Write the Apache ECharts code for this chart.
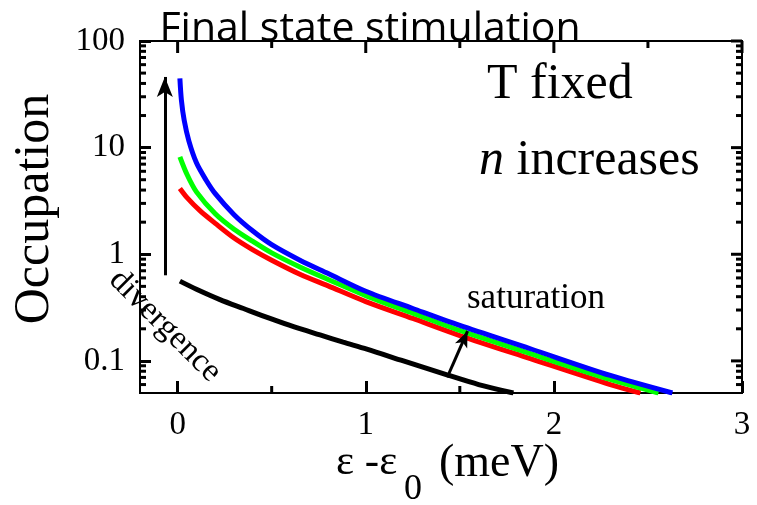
<!DOCTYPE html>
<html>
<head>
<meta charset="utf-8">
<script src="https://cdn.jsdelivr.net/npm/echarts@6/dist/echarts.min.js"></script>
<style>html,body{margin:0;padding:0;background:#fff}#c{width:757px;height:505px}</style>
</head>
<body>
<div id="c"></div>
<script>
// x values (meV) and occupations
const blueX  = [0.012, 0.02, 0.035, 0.06, 0.10, 0.15, 0.20, 0.30, 0.40, 0.50, 0.65, 0.80, 1.00, 1.25, 1.50, 1.875, 2.30, 2.63];
const blueY  = [44.6, 28, 18, 11.5, 7.2, 5.0, 3.7, 2.35, 1.65, 1.23, 0.88, 0.66, 0.45, 0.31, 0.215, 0.13, 0.073, 0.05];
const greenX = [0.012, 0.05, 0.10, 0.20, 0.30, 0.40, 0.50, 0.65, 0.80, 1.00, 1.25, 1.50, 1.875, 2.30, 2.556];
const greenY = [8.2, 5.6, 3.85, 2.4, 1.72, 1.32, 1.03, 0.76, 0.58, 0.41, 0.28, 0.193, 0.117, 0.067, 0.05];
const redX   = [0.012, 0.05, 0.12, 0.20, 0.30, 0.40, 0.50, 0.65, 0.80, 1.00, 1.25, 1.50, 1.875, 2.30, 2.46];
const redY   = [4.14, 3.4, 2.55, 1.95, 1.42, 1.10, 0.88, 0.65, 0.505, 0.36, 0.25, 0.173, 0.105, 0.06, 0.05];
const blackX = [0.012, 0.10, 0.225, 0.35, 0.491, 0.62, 0.757, 0.88, 1.006, 1.20, 1.432, 1.60, 1.785];
const blackY = [0.56, 0.47, 0.376, 0.31, 0.25, 0.208, 0.175, 0.15, 0.129, 0.10, 0.074, 0.06, 0.05];
// arrows (data coordinates)
const divergenceArrow = [[-0.068, 0.635], [-0.068, 46]];
const saturationArrow = [[1.433, 0.070], [1.541, 0.19]];
// ticks
const xMajor = [0, 1, 2, 3];
const xMinor = [0.5, 1.5, 2.5];
const yMajor = [0.1, 1, 10, 100];
const yMinor = [0.06, 0.07, 0.08, 0.09, 0.2, 0.3, 0.4, 0.5, 0.6, 0.7, 0.8, 0.9,
                2, 3, 4, 5, 6, 7, 8, 9, 20, 30, 40, 50, 60, 70, 80, 90];

const zip = (xs, ys) => xs.map((x, i) => [x, ys[i]]);
const SERIF = 'Liberation Serif';
const X_MIN = -0.2, X_MAX = 3, Y_MIN = 0.05, Y_MAX = 100;
const TICK_W = 3;

const chart = echarts.init(document.getElementById('c'), null, { renderer: 'canvas' });
function line(data, color) {
  return { type: 'line', data: data, showSymbol: false, symbol: 'none',
    smooth: 0.3, lineStyle: { color: color, width: 5 }, z: 3 };
}
const blackSeries = line(zip(blackX, blackY), '#000');
blackSeries.markLine = {
  silent: true, animation: false, label: { show: false },
  lineStyle: { color: '#000', width: 3, type: 'solid' },
  data: [
    [{ coord: divergenceArrow[0], symbol: 'none' }, { coord: divergenceArrow[1], symbol: 'arrow', symbolSize: [12, 20] }],
    [{ coord: saturationArrow[0], symbol: 'none' }, { coord: saturationArrow[1], symbol: 'arrow', symbolSize: [10, 16] }]
  ]
};

chart.setOption({
  animation: false,
  grid: { left: 140, top: 41, right: 15, bottom: 112, show: true, borderColor: '#000', borderWidth: 2, backgroundColor: 'transparent' },
  xAxis: [{
    type: 'value', min: X_MIN, max: X_MAX,
    axisLine: { show: true, lineStyle: { color: '#000', width: 2 } },
    axisTick: { show: true, inside: true, length: 12, customValues: xMajor, lineStyle: { color: '#000', width: TICK_W } },
    axisLabel: { customValues: xMajor, margin: 16, color: '#000', fontFamily: SERIF, fontSize: 33 },
    splitLine: { show: false }
  }],
  yAxis: [{
    type: 'log', min: Y_MIN, max: Y_MAX,
    axisLine: { show: true, onZero: false, lineStyle: { color: '#000', width: 2 } },
    axisTick: { show: true, inside: true, length: 11, customValues: yMajor, lineStyle: { color: '#000', width: TICK_W } },
    axisLabel: { customValues: yMajor, margin: 15, color: '#000', fontFamily: SERIF, fontSize: 33,
      formatter: v => String(Number(Number(v).toPrecision(3))) },
    splitLine: { show: false }
  }],
  series: [
    blackSeries,
    line(zip(redX, redY), '#ff0000'),
    line(zip(greenX, greenY), '#00ff00'),
    line(zip(blueX, blueY), '#0000ff')
  ]
});

// extra ticks (minor ticks and mirrored top/right ticks) placed through the chart's scales
const elems = [];
const toPx = pt => chart.convertToPixel({ gridIndex: 0 }, pt);
function tickLine(p, dx, dy) {
  if (!p) return;
  elems.push({ type: 'line', shape: { x1: p[0], y1: p[1], x2: p[0] + dx, y2: p[1] + dy },
    style: { stroke: '#000', lineWidth: TICK_W } });
}
xMajor.forEach(v => tickLine(toPx([v, Y_MAX]), 0, 12));
xMinor.forEach(v => { tickLine(toPx([v, Y_MIN]), 0, -7); tickLine(toPx([v, Y_MAX]), 0, 7); });
yMajor.forEach(v => tickLine(toPx([X_MAX, v]), -11, 0));
yMinor.forEach(v => { tickLine(toPx([X_MIN, v]), 6, 0); tickLine(toPx([X_MAX, v]), -6, 0); });

// texts
elems.push(
  { type: 'text', x: 370, y: 29, style: { text: 'Final state stimulation', fontFamily: 'Open Sans', fontSize: 41, fill: '#000', align: 'center', verticalAlign: 'middle' } },
  { type: 'text', x: 35, y: 209, rotation: Math.PI / 2, style: { text: 'Occupation', fontFamily: SERIF, fontSize: 50, fill: '#000', align: 'center', verticalAlign: 'middle' } },
  { type: 'text', x: 487, y: 85, style: { text: 'T fixed', fontFamily: SERIF, fontSize: 50, fill: '#000', align: 'left', verticalAlign: 'middle' } },
  { type: 'text', x: 479, y: 161, style: { text: '{i|n} increases', fontFamily: SERIF, fontSize: 50, fill: '#000', align: 'left', verticalAlign: 'middle',
      rich: { i: { fontFamily: SERIF, fontSize: 50, fontStyle: 'italic', fill: '#000' } } } },
  { type: 'text', x: 467, y: 299, style: { text: 'saturation', fontFamily: SERIF, fontSize: 35, fill: '#000', align: 'left', verticalAlign: 'middle' } },
  { type: 'text', x: 165, y: 326, rotation: -Math.PI / 4, style: { text: 'divergence', fontFamily: SERIF, fontSize: 33, fill: '#000', align: 'center', verticalAlign: 'middle' } },
  { type: 'text', x: 336, y: 463, style: { text: 'ε -ε', fontFamily: SERIF, fontSize: 43, fill: '#000', align: 'left', verticalAlign: 'middle' } },
  { type: 'text', x: 404, y: 490, style: { text: '0', fontFamily: SERIF, fontSize: 36, fill: '#000', align: 'left', verticalAlign: 'middle' } },
  { type: 'text', x: 439, y: 464, style: { text: '(meV)', fontFamily: SERIF, fontSize: 46, fill: '#000', align: 'left', verticalAlign: 'middle' } }
);
chart.setOption({ graphic: elems });
</script>
</body>
</html>
